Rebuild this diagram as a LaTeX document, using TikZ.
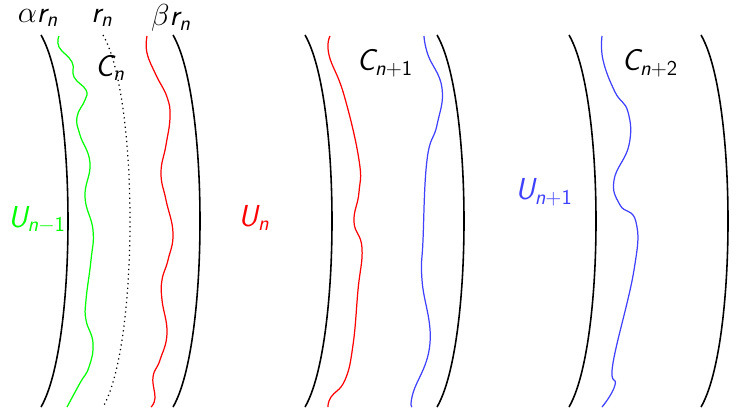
\documentclass[tikz,border=0pt]{standalone}
\usepackage{amsmath,amssymb}
\usepackage{tikz}
\usepackage[dvipsnames]{xcolor}
\newcommand{\sv}[1]{\text{\sffamily\itshape #1}}
\newcommand{\sd}[1]{\text{\sffamily #1}}

\begin{document}
\begin{tikzpicture}[x=0.02cm,y=-0.02cm]
\tikzstyle{shell}=[black, line width=0.9pt]
\tikzstyle{wig}=[line width=0.7pt, smooth, tension=0.75]
\tikzstyle{lab}=[inner sep=1pt, font=\LARGE]
\useasboundingbox (0,0) rectangle (756,407);

% the six circle arcs
\foreach \x in {41,173,305,437,569,701}
  \draw[shell] (\x,35) .. controls (\x+36,97) and (\x+36,345) .. (\x,407);
\draw[dotted, line width=0.7pt] (103,35) .. controls (139,97) and (139,345) .. (103,407);

\node[lab] (alpha) at (38,18) {$\alpha\sv{r}_{\sv{n}}$};
\node[lab] (rn) at (102,18) {$\sv{r}_{\sv{n}}$};
\node[lab] (beta) at (171,18) {$\beta\sv{r}_{\sv{n}}$};
\node[lab] (Cn) at (110,68) {$\sv{C}_{\sv{n}}$};
\node[lab] (Cn1) at (385,63) {$\sv{C}_{\sv{n}+\sd{1}}$};
\node[lab] (Cn2) at (650,63) {$\sv{C}_{\sv{n}+\sd{2}}$};
\node[lab, green] (Un0) at (37,220) {$\sv{U}_{\sv{n}-\sd{1}}$};
\node[lab, red] (Un) at (254,218) {$\sv{U}_{\sv{n}}$};
\node[lab, blue!75] (Un2) at (544,192) {$\sv{U}_{\sv{n}+\sd{1}}$};

% the wavy boundaries
\draw[wig, green] plot coordinates {(59,36) (59,47) (72,62) (74,77) (86,90) (85,100) (77,117) (80,135) (90,163) (85,197) (93,230) (91,260) (86,300) (86,320) (93,343) (89,367) (80,383) (67,407)};
\draw[wig, red] plot coordinates {(147,36) (147,53) (156,75) (167,97) (170,117) (166,145) (161,173) (166,200) (173,233) (168,260) (162,280) (162,300) (167,333) (160,360) (153,377) (155,398) (151,407)};
\draw[wig, red] plot coordinates {(330,36) (329,55) (344,95) (359,160) (359,192) (354,222) (362,248) (358,290) (353,345) (345,380) (331,397) (328,407)};
\draw[wig, blue!75] plot coordinates {(424,36) (428,55) (442,88) (437,125) (427,160) (423,240) (422,280) (430,343) (413,393) (412,407)};
\draw[wig, blue!75] plot coordinates {(602,36) (603,60) (615,92) (628,112) (629,145) (614,180) (620,205) (636,222) (634,270) (613,363) (615,385) (602,407)};
\end{tikzpicture}
\end{document}
